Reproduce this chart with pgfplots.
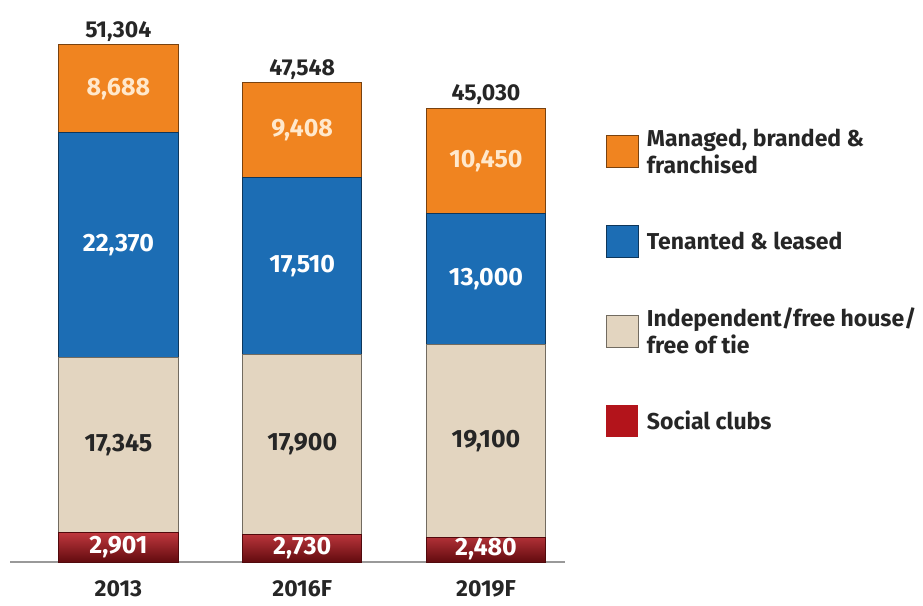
\documentclass[border=0pt]{standalone}
\usepackage{pgfplots}
\pgfplotsset{compat=1.18}
\usepackage{fontspec}
\setmainfont{Fira Sans}
\definecolor{corange}{HTML}{F08420}
\definecolor{cblue}{HTML}{1C6DB4}
\definecolor{cbeige}{HTML}{E3D5C0}
\definecolor{cred}{HTML}{B3141B}
\definecolor{cdark}{HTML}{262626}
\definecolor{ccream}{HTML}{FFE8CC}
\newcommand{\lblfont}{\fontsize{25}{29}\selectfont\bfseries}
\newcommand{\totfont}{\fontsize{23}{27}\selectfont\bfseries}
\newcommand{\legfont}{\fontsize{23}{27}\selectfont\bfseries}
\pgfplotsset{geom/.style={at={(10pt,43pt)}, anchor=south west, scale only axis,
  width=555pt, height=562pt, xmin=-0.59, xmax=2.43, ymin=0, ymax=55770}}
\pgfplotstableread{
x y lab
0 1450.5 2,901
1 1365 2,730
2 1240 2,480
}\tred
\pgfplotstableread{
x y lab
0 11573.5 17,345
1 11680 17,900
2 12030 19,100
}\tbeige
\pgfplotstableread{
x y lab
0 31431 22,370
1 29385 17,510
2 28080 13,000
}\tblue
\pgfplotstableread{
x y lab
0 46960 8,688
1 42844 9,408
2 39805 10,450
}\torange
\pgfplotstableread{
x y lab
0 51304 51,304
1 47548 47,548
2 45030 45,030
}\ttotal
\begin{document}
\begin{tikzpicture}
\path[use as bounding box] (0,0) rectangle (923pt,605pt);
\begin{axis}[geom,
 ybar stacked, bar width=0.65,
 axis y line=none, axis x line=bottom,
 x axis line style={-, draw=gray!80, line width=1.2pt},
 xtick={0,1,2}, xticklabels={2013,2016F,2019F}, major tick length=0pt,
 xticklabel style={font=\fontsize{23}{27}\selectfont\bfseries, text=cdark, yshift=-15pt},
 reverse legend, legend cell align=left,
 legend style={at={(1.068,0.778)}, anchor=north west, draw=none, fill=none,
   font=\legfont, text=cdark, nodes={align=left, inner xsep=8pt}, row sep=48pt},
 legend image code/.code={\fill[#1] (0pt,-16pt) rectangle (32pt,16pt);},
]
\addplot[fill=cred, top color=cred!85!white, bottom color=cred!55!black, draw=cred!45!black, line width=1pt,
  legend image code/.code={\pgfpathrectangle{\pgfpoint{0pt}{-16pt}}{\pgfpoint{32pt}{32pt}}\pgfsetfillcolor{cred}\pgfusepath{fill}}] coordinates {(0,2901) (1,2730) (2,2480)};
\addlegendentry{Social clubs}
\addplot[fill=cbeige, draw=cbeige!50!black, line width=1pt] coordinates {(0,17345) (1,17900) (2,19100)};
\addlegendentry{Independent/free house/\\free of tie}
\addplot[fill=cblue, draw=cblue!50!black, line width=1pt] coordinates {(0,22370) (1,17510) (2,13000)};
\addlegendentry{Tenanted \& leased}
\addplot[fill=corange, draw=corange!50!black, line width=1pt] coordinates {(0,8688) (1,9408) (2,10450)};
\addlegendentry{Managed, branded \&\\franchised}
\end{axis}
\begin{axis}[geom, hide axis, point meta=explicit symbolic,
  every node near coord/.append style={anchor=center, font=\lblfont}]
\addplot[draw=none, mark=none, nodes near coords, every node near coord/.append style={text=white}] table[meta=lab] {\tred};
\addplot[draw=none, mark=none, nodes near coords, every node near coord/.append style={text=cdark}] table[meta=lab] {\tbeige};
\addplot[draw=none, mark=none, nodes near coords, every node near coord/.append style={text=white}] table[meta=lab] {\tblue};
\addplot[draw=none, mark=none, nodes near coords, every node near coord/.append style={text=ccream}] table[meta=lab] {\torange};
\addplot[draw=none, mark=none, nodes near coords, every node near coord/.append style={text=cdark, anchor=south, yshift=0pt, font=\totfont}] table[meta=lab] {\ttotal};
\end{axis}
\end{tikzpicture}
\end{document}
